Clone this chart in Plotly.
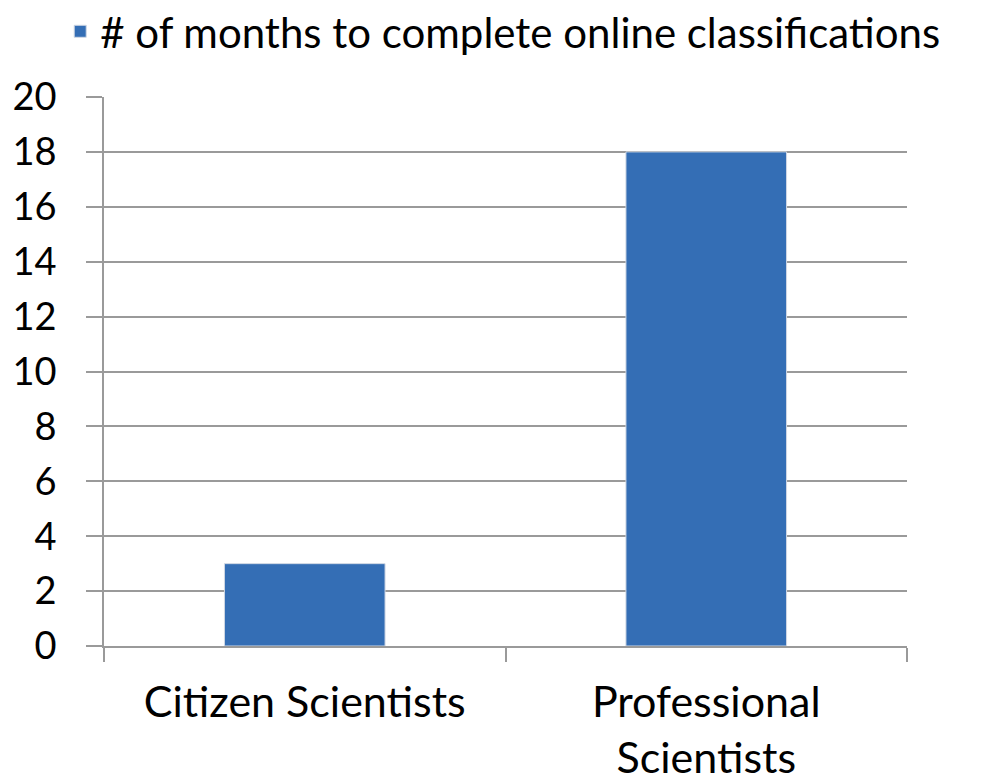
import plotly.graph_objects as go

categories = ["Citizen Scientists", "Professional<br>Scientists"]
months = [3, 18]
series_name = "# of months to complete online classifications"
y_ticks = [0, 2, 4, 6, 8, 10, 12, 14, 16, 18, 20]

FONT = "Lato, 'Open Sans', sans-serif"
GRID = "#9a9a9a"

fig = go.Figure()
fig.add_trace(go.Bar(
    x=categories, y=months, name=series_name,
    marker=dict(color="#346eb5", line=dict(color="#d0d8e4", width=1)),
    width=0.4, showlegend=True,
))

fig.update_layout(
    width=1004, height=783,
    margin=dict(l=96, r=105, t=89, b=145, autoexpand=False),
    paper_bgcolor="white", plot_bgcolor="white",
    font=dict(family=FONT, size=41, color="black"),
    showlegend=True,
    legend=dict(x=0.052, y=0.97, xref="container", yref="container",
                xanchor="left", yanchor="middle",
                orientation="h", font=dict(size=42),
                itemwidth=30, bgcolor="rgba(0,0,0,0)"),
    bargap=0.6,
)
fig.update_yaxes(
    range=[0, 20], tickvals=y_ticks, showgrid=True, gridcolor=GRID, gridwidth=1.5,
    showline=True, linecolor=GRID, linewidth=1.5,
    ticks="outside", ticklen=16, tickcolor=GRID, tickwidth=1.5,
    tickfont=dict(size=38), zeroline=False, ticklabelstandoff=22, automargin=False,
)
fig.update_xaxes(
    showline=True, linecolor=GRID, linewidth=1.5,
    ticks="outside", tickson="boundaries", ticklen=14, tickcolor=GRID, tickwidth=1.5,
    tickfont=dict(size=43), showgrid=False, ticklabelstandoff=18, automargin=False,
)
fig.write_html("out.html")
